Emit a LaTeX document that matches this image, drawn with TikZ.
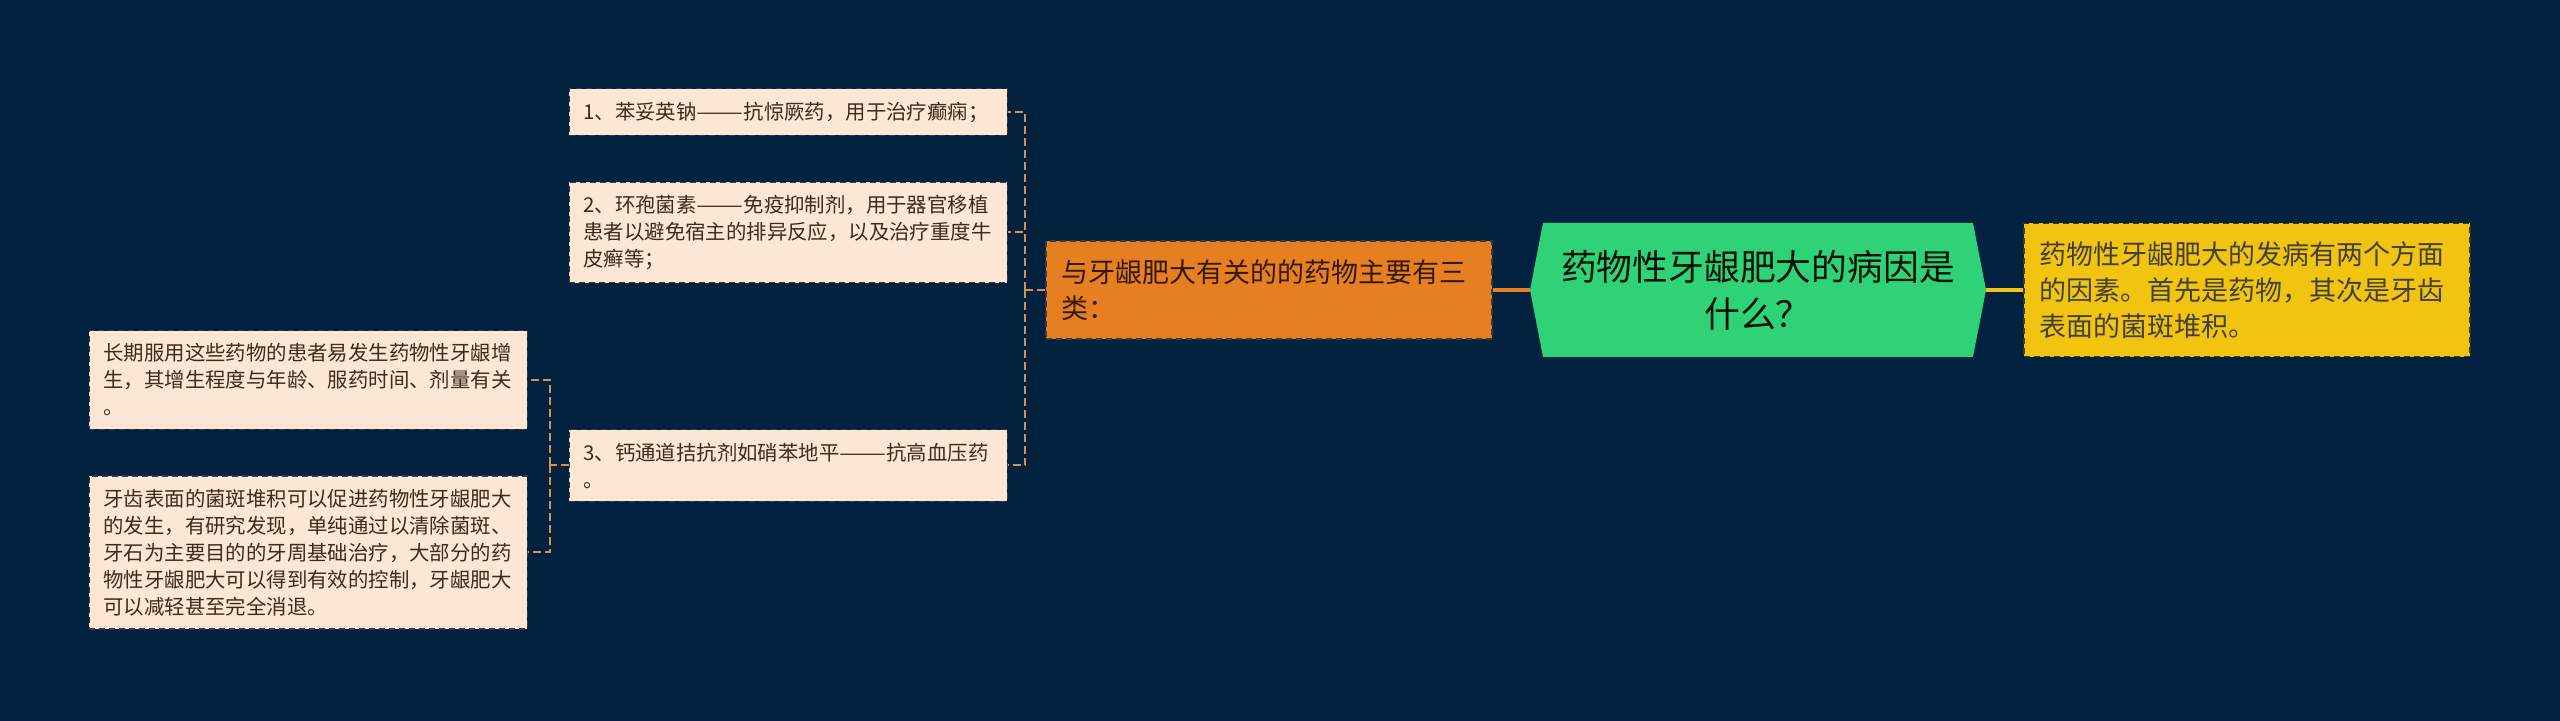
\documentclass[tikz,border=0pt]{standalone}
\usepackage{fontspec}
\setmainfont{Noto Sans CJK SC}
\usepackage{tikz}
\usetikzlibrary{positioning, shapes.symbols}

\definecolor{bgnavy}{HTML}{022240}
\definecolor{leaffill}{HTML}{FCE7D6}
\definecolor{leaftext}{HTML}{3D2B1F}
\definecolor{boxline}{HTML}{3A3A3A}
\definecolor{branchtan}{HTML}{D98F4E}
\definecolor{orangebox}{HTML}{E67E22}
\definecolor{rootgreen}{HTML}{30D278}
\definecolor{yellowbox}{HTML}{F1C40F}

% wide dash pair as printed in the leaves
\newcommand\widedash{\resizebox{2.3em}{\height}{——}}

\begin{document}
\begin{tikzpicture}[
  node distance=18.5pt,
  leaf/.style={draw=boxline, dash pattern=on 3pt off 2pt, line width=0.6pt, fill=leaffill, text=leaftext,
    text width=205pt, inner xsep=7pt, inner ysep=6.5pt, align=left, anchor=east,
    font=\fontsize{10.2}{13.5}\selectfont},
  topic/.style={draw=boxline, dash pattern=on 3pt off 2pt, line width=0.6pt,
    text width=208pt, inner xsep=7.5pt, inner ysep=9pt, align=left,
    font=\fontsize{13.5}{18}\selectfont},
  hexa/.style={signal, signal to=west and east, signal pointer angle=158, fill=rootgreen,
    minimum width=228pt, minimum height=67pt, inner sep=0pt, align=center, text=black!75!green!30!black,
    font=\fontsize{17.9}{23.5}\selectfont},
  branch/.style={draw=branchtan, line width=1pt, dash pattern=on 4pt off 2pt},
  link/.style={line width=1.6pt}
]
  \fill[bgnavy] (0,0) rectangle (1280pt,360.5pt);
  \useasboundingbox (0,0) rectangle (1280pt,360.5pt);

  \node[hexa] (root) at (879pt,215.5pt) {药物性牙龈肥大的病因是\\什么？};
  \node[topic, fill=yellowbox, text=black!85!yellow, right=of root] (cause) {药物性牙龈肥大的发病有两个方面\\的因素。首先是药物，其次是牙齿\\表面的菌斑堆积。};
  \node[topic, fill=orangebox, text=black!80!orange, inner ysep=9.25pt, left=of root] (drugs) {与牙龈肥大有关的的药物主要有三\\类：};

  \node[leaf] (drug1) at (504pt,304.5pt) {1、苯妥英钠\widedash 抗惊厥药，用于治疗癫痫；};
  \node[leaf] (drug2) at (504pt,244.25pt) {2、环孢菌素\widedash 免疫抑制剂，用于器官移植\\患者以避免宿主的排异反应，以及治疗重度牛\\皮癣等；};
  \node[leaf] (drug3) at (504pt,127.75pt) {3、钙通道拮抗剂如硝苯地平\widedash 抗高血压药\\。};

  \node[leaf] (note1) at (264pt,170.5pt) {长期服用这些药物的患者易发生药物性牙龈增\\生，其增生程度与年龄、服药时间、剂量有关\\。};
  \node[leaf] (note2) at (264pt,84.25pt) {牙齿表面的菌斑堆积可以促进药物性牙龈肥大\\的发生，有研究发现，单纯通过以清除菌斑、\\牙石为主要目的的牙周基础治疗，大部分的药\\物性牙龈肥大可以得到有效的控制，牙龈肥大\\可以减轻甚至完全消退。};

  \draw[link, draw=orangebox] (root.west) -- (drugs.east);
  \draw[link, draw=yellowbox] (root.east) -- (cause.west);

  \draw[branch] (drugs.west) -- ++(-10pt,0) coordinate (fork1);
  \foreach \d in {drug1, drug2, drug3}
    \draw[branch] (fork1) |- (\d.east);

  \draw[branch] (drug3.west) -- ++(-9.5pt,0) coordinate (fork2);
  \foreach \d in {note1, note2}
    \draw[branch] (fork2) |- (\d.east);
\end{tikzpicture}
\end{document}
